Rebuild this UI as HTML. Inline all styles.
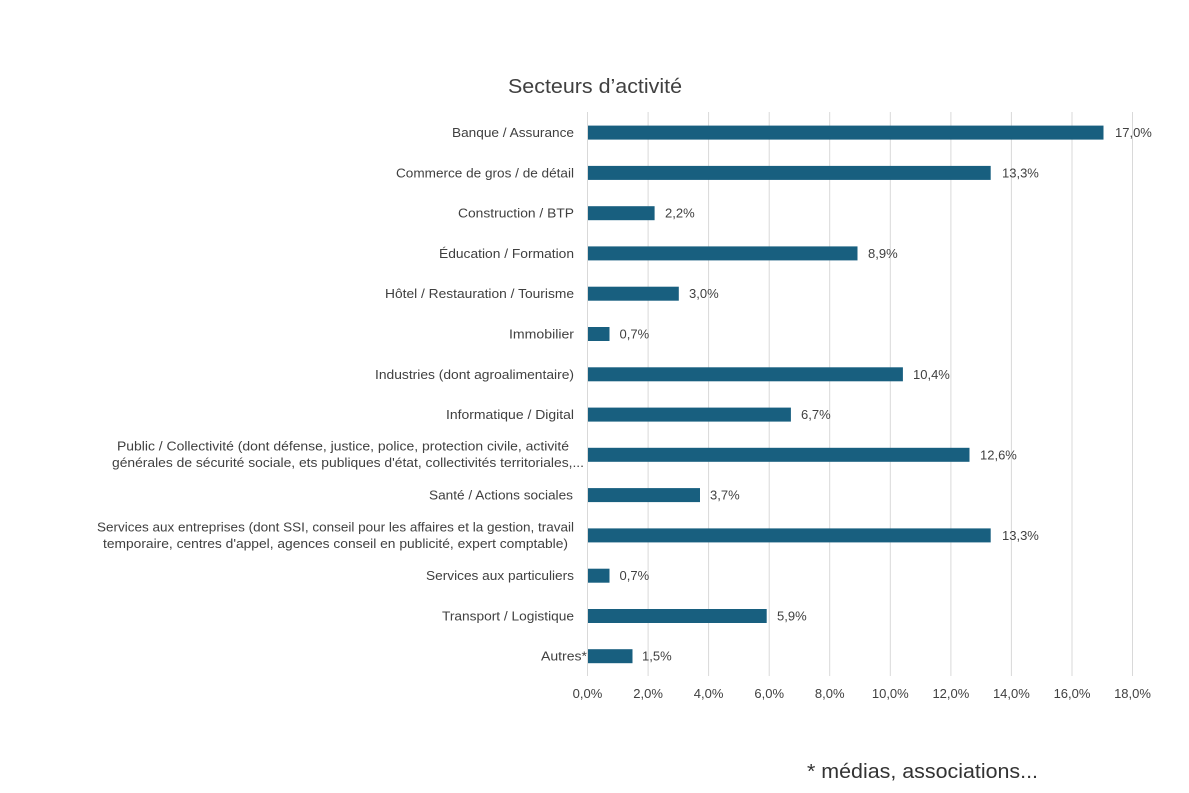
<!DOCTYPE html>
<html>
<head>
<meta charset="utf-8">
<style>
html,body{margin:0;padding:0;background:#fff;}
svg{display:block;}
text{font-family:"Liberation Sans",Arial,sans-serif;fill:#404040;}
</style>
</head>
<body>
<svg width="1189" height="793" viewBox="0 0 1189 793" xmlns="http://www.w3.org/2000/svg">
<rect width="1189" height="793" fill="#fff"/>
<!-- title -->
<text x="508" y="93" font-size="20" textLength="174" lengthAdjust="spacingAndGlyphs">Secteurs d’activité</text>

<!-- gridlines -->
<g stroke="#d9d9d9" stroke-width="1">
<line x1="587.5" y1="112" x2="587.5" y2="676"/>
<line x1="648.1" y1="112" x2="648.1" y2="676"/>
<line x1="708.6" y1="112" x2="708.6" y2="676"/>
<line x1="769.2" y1="112" x2="769.2" y2="676"/>
<line x1="829.7" y1="112" x2="829.7" y2="676"/>
<line x1="890.3" y1="112" x2="890.3" y2="676"/>
<line x1="950.9" y1="112" x2="950.9" y2="676"/>
<line x1="1011.4" y1="112" x2="1011.4" y2="676"/>
<line x1="1072.0" y1="112" x2="1072.0" y2="676"/>
<line x1="1132.5" y1="112" x2="1132.5" y2="676"/>
</g>

<!-- bars -->
<g fill="#185f7f">
<rect x="588" y="125.6" width="515.5" height="14"/>
<rect x="588" y="165.9" width="402.7" height="14"/>
<rect x="588" y="206.2" width="66.6" height="14"/>
<rect x="588" y="246.4" width="269.5" height="14"/>
<rect x="588" y="286.7" width="90.8" height="14"/>
<rect x="588" y="327.0" width="21.5" height="14"/>
<rect x="588" y="367.3" width="314.9" height="14"/>
<rect x="588" y="407.6" width="202.9" height="14"/>
<rect x="588" y="447.8" width="381.5" height="14"/>
<rect x="588" y="488.1" width="112" height="14"/>
<rect x="588" y="528.4" width="402.7" height="14"/>
<rect x="588" y="568.7" width="21.5" height="14"/>
<rect x="588" y="609.0" width="178.7" height="14"/>
<rect x="588" y="649.2" width="44.5" height="14"/>
</g>

<!-- value labels -->
<g font-size="13">
<text x="1115" y="137.1">17,0%</text>
<text x="1002" y="177.4">13,3%</text>
<text x="665" y="217.7">2,2%</text>
<text x="868" y="257.9">8,9%</text>
<text x="689" y="298.2">3,0%</text>
<text x="619.5" y="338.5">0,7%</text>
<text x="913" y="378.8">10,4%</text>
<text x="801" y="419.1">6,7%</text>
<text x="980" y="459.3">12,6%</text>
<text x="710" y="499.6">3,7%</text>
<text x="1002" y="539.9">13,3%</text>
<text x="619.5" y="580.2">0,7%</text>
<text x="777" y="620.5">5,9%</text>
<text x="642" y="660.7">1,5%</text>
</g>

<!-- category labels -->
<g font-size="13" lengthAdjust="spacingAndGlyphs">
<text x="452" y="137.1" textLength="122" lengthAdjust="spacingAndGlyphs">Banque / Assurance</text>
<text x="396" y="177.4" textLength="178" lengthAdjust="spacingAndGlyphs">Commerce de gros / de détail</text>
<text x="458" y="217.7" textLength="116" lengthAdjust="spacingAndGlyphs">Construction / BTP</text>
<text x="439" y="257.9" textLength="135" lengthAdjust="spacingAndGlyphs">Éducation / Formation</text>
<text x="385" y="298.2" textLength="189" lengthAdjust="spacingAndGlyphs">Hôtel / Restauration / Tourisme</text>
<text x="509" y="338.5" textLength="65" lengthAdjust="spacingAndGlyphs">Immobilier</text>
<text x="375" y="378.8" textLength="199" lengthAdjust="spacingAndGlyphs">Industries (dont agroalimentaire)</text>
<text x="446" y="419.1" textLength="128" lengthAdjust="spacingAndGlyphs">Informatique / Digital</text>
<text x="117" y="450.5" textLength="452" lengthAdjust="spacingAndGlyphs">Public / Collectivité (dont défense, justice, police, protection civile, activité</text>
<text x="112" y="467" textLength="472" lengthAdjust="spacingAndGlyphs">générales de sécurité sociale, ets publiques d'état, collectivités territoriales,...</text>
<text x="429" y="499.6" textLength="144" lengthAdjust="spacingAndGlyphs">Santé / Actions sociales</text>
<text x="97" y="531.5" textLength="477" lengthAdjust="spacingAndGlyphs">Services aux entreprises (dont SSI, conseil pour les affaires et la gestion, travail</text>
<text x="103" y="548" textLength="465" lengthAdjust="spacingAndGlyphs">temporaire, centres d'appel, agences conseil en publicité, expert comptable)</text>
<text x="426" y="580.2" textLength="148" lengthAdjust="spacingAndGlyphs">Services aux particuliers</text>
<text x="442" y="620.5" textLength="132" lengthAdjust="spacingAndGlyphs">Transport / Logistique</text>
<text x="541" y="660.7" textLength="46" lengthAdjust="spacingAndGlyphs">Autres*</text>
</g>

<!-- x tick labels -->
<g font-size="13" text-anchor="middle">
<text x="587.5" y="698">0,0%</text>
<text x="648.1" y="698">2,0%</text>
<text x="708.6" y="698">4,0%</text>
<text x="769.2" y="698">6,0%</text>
<text x="829.7" y="698">8,0%</text>
<text x="890.3" y="698">10,0%</text>
<text x="950.9" y="698">12,0%</text>
<text x="1011.4" y="698">14,0%</text>
<text x="1072.0" y="698">16,0%</text>
<text x="1132.5" y="698">18,0%</text>
</g>

<!-- footnote -->
<text x="807" y="778" font-size="20" textLength="231" lengthAdjust="spacingAndGlyphs" style="fill:#333">* médias, associations...</text>
</svg>
</body>
</html>
